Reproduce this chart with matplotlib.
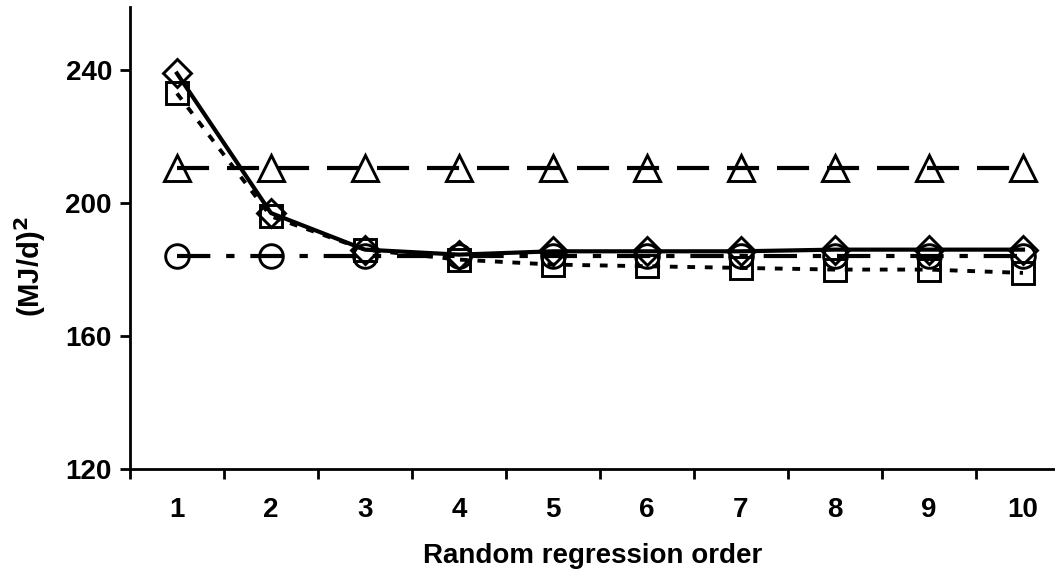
import numpy as np
import matplotlib.pyplot as plt

plt.rcParams['font.family'] = ['Liberation Sans', 'DejaVu Sans']
plt.rcParams['font.weight'] = 'bold'

orders = np.arange(1, 11)
diamond_vals = [239, 197, 186, 184.5, 185.5, 185.5, 185.5, 186, 186, 186]
square_vals = [233, 196, 186, 183, 181.5, 181, 180.5, 180, 180, 179]
triangle_vals = [210.5] * 10
circle_vals = [184] * 10

fig = plt.figure(figsize=(10.55, 5.82), dpi=100)
ax = fig.add_axes([130 / 1055, 1 - 469 / 582, 925 / 1055, (469 - 7) / 582])

mk = dict(markerfacecolor='none', markeredgecolor='black', markeredgewidth=2.1,
          color='black', clip_on=False)

ax.plot(orders, triangle_vals, marker='^', markersize=19, linewidth=3,
        dashes=(7.7, 4.3), **mk)
ax.plot(orders, circle_vals, marker='o', markersize=17, linewidth=3,
        dashes=(8, 3.8, 2, 3.8), **mk)
ax.plot(orders, square_vals, marker='s', markersize=16, linewidth=2.8,
        dashes=(2, 2.5), **mk)
ax.plot(orders, diamond_vals, marker='D', markersize=14, linewidth=3,
        linestyle='-', **mk)

ax.set_xlim(0.5, 0.5 + 925 / 94)
ax.set_ylim(120, 259)
ax.set_yticks([120, 160, 200, 240])
ax.set_xticks(orders)
ax.set_xticks(np.arange(0.5, 10.5, 1.0), minor=True)
ax.tick_params(axis='x', which='major', length=0, pad=20, labelsize=20)
ax.tick_params(axis='x', which='minor', length=7, width=2, direction='out')
ax.tick_params(axis='y', length=7, width=2, direction='out', pad=6, labelsize=20)

for side in ['top', 'right']:
    ax.spines[side].set_visible(False)
for side in ['left', 'bottom']:
    ax.spines[side].set_linewidth(2)

ax.set_xlabel('Random regression order', fontsize=20, fontweight='bold', va='center')
ax.xaxis.set_label_coords(0.5, (469 - 556) / 462)
ax.set_ylabel('(MJ/d)$^\\mathbf{2}$', fontsize=21, fontweight='bold', va='center')
ax.yaxis.set_label_coords((30 - 130) / 925, (469 - 267) / 462)

fig.savefig('out.png', dpi=100)
